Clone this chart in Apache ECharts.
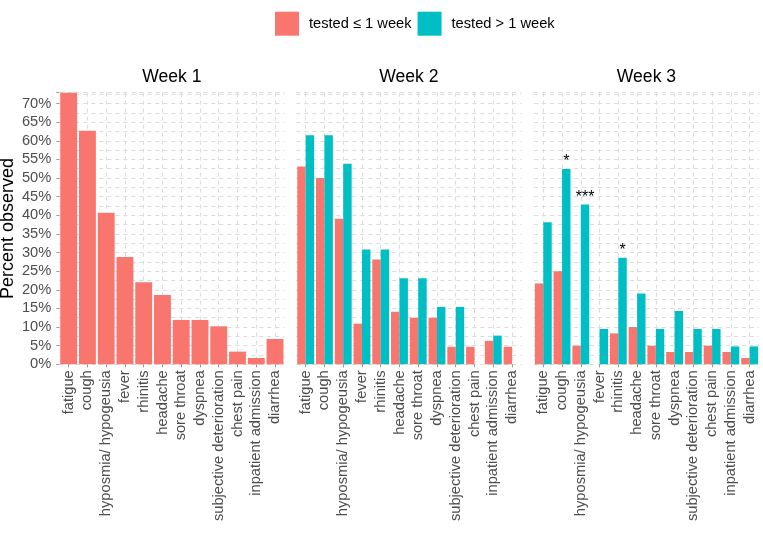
<!DOCTYPE html>
<html>
<head>
<meta charset="utf-8">
<script src="https://cdn.jsdelivr.net/npm/echarts@6/dist/echarts.min.js"></script>
<style>html,body{margin:0;padding:0;background:#fff}#c{width:763px;height:545px}</style>
</head>
<body>
<div id="c"></div>
<script>
const categories = ['fatigue','cough','hyposmia/ hypogeusia','fever','rhinitis','headache','sore throat','dyspnea','subjective deterioration','chest pain','inpatient admission','diarrhea'];
const weeks = ['Week 1','Week 2','Week 3'];
const seriesNames = ['tested \u2264 1 week','tested > 1 week'];
const week1Le = [72.9, 62.7, 40.7, 28.8, 22.0, 18.6, 11.9, 11.9, 10.2, 3.4, 1.7, 6.8];
const week2Le = [53.1, 50.0, 39.1, 10.9, 28.1, 14.1, 12.5, 12.5, 4.7, 4.7, 6.3, 4.7];
const week2Gt = [61.5, 61.5, 53.8, 30.8, 30.8, 23.1, 23.1, 15.4, 15.4, 0, 7.7, 0];
const week3Le = [21.7, 25.0, 5.0, 0, 8.3, 10.0, 5.0, 3.3, 3.3, 5.0, 3.3, 1.7];
const week3Gt = [38.1, 52.4, 42.9, 9.5, 28.6, 19.0, 9.5, 14.3, 9.5, 9.5, 4.8, 4.8];
const week3Sig = ['', '*', '***', '', '*', '', '', '', '', '', '', ''];
const yTicks = [0,5,10,15,20,25,30,35,40,45,50,55,60,65,70];

const RED = '#F8766D', TEAL = '#00BFC4';
const FONT = '"Liberation Sans", Arial, sans-serif';
const yMax = Math.max(...week1Le);
const panelLeft = [59.3, 296.3, 533.9];
const panelW = 225.1, panelTop = 92.7, panelH = 271.6;
const gridColor = '#DCDCDC';

const grids = panelLeft.map(l => ({left: l, top: panelTop, width: panelW, height: panelH, outerBoundsMode: 'none', containLabel: false}));

const xAxes = [0,1,2].map(i => ({
  type: 'category', gridIndex: i, data: categories,
  axisLine: {show: false},
  axisTick: {show: true, alignWithLabel: true, length: 3, lineStyle: {color: '#999', width: 1}},
  axisLabel: {rotate: 90, margin: 6, fontSize: 14.67, color: '#4D4D4D', fontFamily: FONT, interval: 0},
  splitLine: {show: true, alignWithLabel: true, interval: 0, lineStyle: {color: gridColor, type: [4,4], width: 1}}
}));

const yAxes = [];
[0,1,2].forEach(i => {
  yAxes.push({
    type: 'value', gridIndex: i, position: 'left', min: 0, max: yMax, interval: 2.5,
    axisLine: {show: false}, axisTick: {show: false}, axisLabel: {show: false},
    splitLine: {show: true, lineStyle: {color: gridColor, type: [4,4], width: 1}}
  });
});
yAxes.push({
  type: 'value', gridIndex: 0, position: 'left', offset: 0, min: 0, max: yMax, interval: 5,
  axisLine: {show: false},
  axisTick: {show: true, length: 3, lineStyle: {color: '#999', width: 1}},
  axisLabel: {show: true, margin: 8, fontSize: 14.67, color: '#4D4D4D', fontFamily: FONT,
    formatter: v => yTicks.some(t => Math.abs(t - v) < 1e-6) ? v + '%' : ''},
  splitLine: {show: false},
  name: 'Percent observed', nameLocation: 'middle', nameGap: 42,
  nameTextStyle: {fontSize: 18, color: '#000', fontFamily: FONT}
});

function barSeries(name, color, xi, yi, data) {
  return {
    type: 'bar', name: name, xAxisIndex: xi, yAxisIndex: yi, data: data,
    itemStyle: {color: color}, barCategoryGap: '10%', barGap: '0%',
    animation: false
  };
}

const s3gt = barSeries(seriesNames[1], TEAL, 2, 2, week3Gt.map((v, i) => ({
  value: v,
  label: {show: week3Sig[i] !== '', formatter: week3Sig[i], position: 'top', distance: -1, color: '#000', fontSize: 16, fontFamily: FONT}
})));

const option = {
  animation: false,
  backgroundColor: '#fff',
  textStyle: {fontFamily: FONT},
  legend: {
    left: 275, top: 11.7, padding: 0, itemWidth: 24, itemHeight: 24, itemGap: 6, icon: 'rect',
    data: seriesNames,
    textStyle: {fontSize: 14.67, color: '#000', fontFamily: FONT, padding: [0,0,0,5]},
    selectedMode: false
  },
  title: weeks.map((w, i) => ({
    text: w, left: panelLeft[i] + panelW / 2, top: 68, textAlign: 'center', padding: 0,
    textStyle: {fontSize: 17.6, fontWeight: 'normal', color: '#000', fontFamily: FONT}
  })),
  grid: grids,
  xAxis: xAxes,
  yAxis: yAxes,
  series: [
    barSeries(seriesNames[0], RED, 0, 0, week1Le),
    barSeries(seriesNames[0], RED, 1, 1, week2Le),
    barSeries(seriesNames[1], TEAL, 1, 1, week2Gt),
    barSeries(seriesNames[0], RED, 2, 2, week3Le),
    s3gt
  ]
};
const chart = echarts.init(document.getElementById('c'), null, {renderer: 'canvas'});
chart.setOption(option);
</script>
</body>
</html>
